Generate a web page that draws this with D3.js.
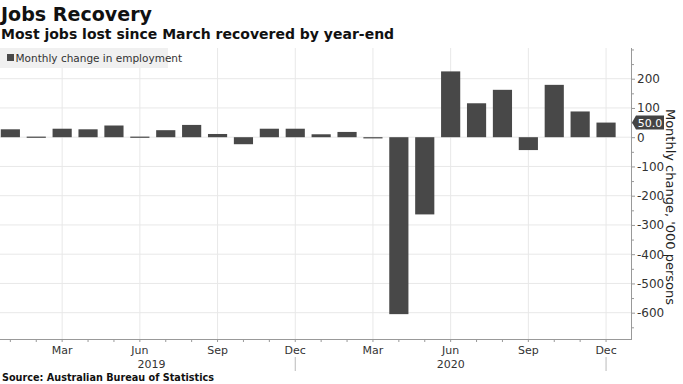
<!DOCTYPE html>
<html>
<head>
<meta charset="utf-8">
<script src="https://cdn.jsdelivr.net/npm/d3@7"></script>
<style>
  body { margin: 0; background: #fff; }
  text { font-family: "DejaVu Sans", sans-serif; }
</style>
</head>
<body>
<div id="chart"></div>
<script>
// data
var months = ["2019-01","2019-02","2019-03","2019-04","2019-05","2019-06",
              "2019-07","2019-08","2019-09","2019-10","2019-11","2019-12",
              "2020-01","2020-02","2020-03","2020-04","2020-05","2020-06",
              "2020-07","2020-08","2020-09","2020-10","2020-11","2020-12"];
var values = [27, 2, 29, 27, 40, 2, 24, 42, 11, -24, 29, 29,
              10, 18, -4, -605, -264, 225, 116, 162, -44, 179, 88, 50];
var monthLabels = {"03": "Mar", "06": "Jun", "09": "Sep", "12": "Dec"};
var years = ["2019", "2020"];
var yTicks = [200, 100, 0, -100, -200, -300, -400, -500, -600];
var lastLabel = "50.0";

var width = 683, height = 384;
var plotTop = 48, plotBottom = 339, plotRight = 631;
var barColor = "#484848";

var svg = d3.select("#chart").append("svg")
  .attr("width", width)
  .attr("height", height);

var x = d3.scaleBand()
  .domain(months)
  .range([-2.6, 619])
  .paddingInner(0.26)
  .paddingOuter(0.13);
var step = x.step();
var cx = m => x(m) + x.bandwidth() / 2;

var y = d3.scaleLinear()
  .domain([-690, 305])
  .range([plotBottom, plotTop]);

/* grid */
var grid = svg.append("g");
grid.selectAll(".hgrid")
  .data(yTicks).enter()
  .append("line")
  .attr("x1", 0).attr("x2", plotRight)
  .attr("y1", d => y(d)).attr("y2", d => y(d))
  .attr("stroke", "#e8e8e8");
grid.selectAll(".vgrid")
  .data(months.filter(m => monthLabels[m.slice(5)])).enter()
  .append("line")
  .attr("x1", d => cx(d)).attr("x2", d => cx(d))
  .attr("y1", plotTop).attr("y2", plotBottom)
  .attr("stroke", "#e8e8e8");

/* title */
svg.append("text")
  .attr("x", 1).attr("y", 21)
  .attr("font-size", 19).attr("font-weight", "bold")
  .attr("textLength", 151).attr("lengthAdjust", "spacingAndGlyphs")
  .attr("fill", "#111")
  .text("Jobs Recovery");
svg.append("text")
  .attr("x", 1).attr("y", 39)
  .attr("font-size", 14).attr("font-weight", "bold")
  .attr("fill", "#111")
  .text("Most jobs lost since March recovered by year-end");

/* legend */
svg.append("rect")
  .attr("x", 0).attr("y", 48).attr("width", 168).attr("height", 20)
  .attr("fill", "#f0f0f0");
svg.append("rect")
  .attr("x", 7).attr("y", 54).attr("width", 7).attr("height", 7)
  .attr("fill", barColor);
svg.append("text")
  .attr("x", 15.5).attr("y", 62)
  .attr("font-size", 10.5).attr("fill", "#333")
  .attr("font-family", "DejaVu Sans Condensed")
  .text("Monthly change in employment");

/* bars */
svg.append("g").selectAll("rect")
  .data(months).enter()
  .append("rect")
  .attr("x", d => x(d))
  .attr("width", x.bandwidth())
  .attr("y", (d, i) => y(Math.max(0, values[i])))
  .attr("height", (d, i) => Math.max(1.2, Math.abs(y(values[i]) - y(0))))
  .attr("fill", barColor);

/* x axis */
var xAxis = svg.append("g");
xAxis.append("line")
  .attr("x1", 0).attr("x2", plotRight)
  .attr("y1", plotBottom + 0.5).attr("y2", plotBottom + 0.5)
  .attr("stroke", "#999");
xAxis.selectAll(".tick")
  .data(months).enter()
  .append("line")
  .attr("x1", d => cx(d)).attr("x2", d => cx(d))
  .attr("y1", plotBottom).attr("y2", plotBottom + 3)
  .attr("stroke", "#999");
xAxis.selectAll(".lbl")
  .data(months.filter(m => monthLabels[m.slice(5)])).enter()
  .append("text")
  .attr("x", d => cx(d)).attr("y", 354)
  .attr("text-anchor", "middle")
  .attr("font-size", 11).attr("fill", "#333")
  .attr("font-family", "DejaVu Sans Condensed")
  .text(d => monthLabels[d.slice(5)]);
xAxis.selectAll(".year")
  .data(years).enter()
  .append("text")
  .attr("x", (d, i) => cx(d + "-06") + (i == 0 ? step * 0.45 : 0))
  .attr("y", 368)
  .attr("text-anchor", "middle")
  .attr("font-size", 11).attr("fill", "#333")
  .attr("font-family", "DejaVu Sans Condensed")
  .text(d => d);
xAxis.selectAll(".sep")
  .data(years).enter()
  .append("line")
  .attr("x1", d => cx(d + "-12")).attr("x2", d => cx(d + "-12"))
  .attr("y1", 357).attr("y2", 371)
  .attr("stroke", "#bbb");

/* right y axis */
var yAxis = d3.axisRight(y)
  .tickValues(d3.range(-650, 301, 50))
  .tickSize(4)
  .tickFormat(d => yTicks.indexOf(d) >= 0 ? d : "");
var ya = svg.append("g")
  .attr("transform", `translate(${plotRight}, 0)`)
  .call(yAxis);
ya.select(".domain").attr("stroke", "#999").attr("d", `M0.5,${plotTop}V${plotBottom + 1}`);
ya.selectAll(".tick line").attr("stroke", "#999")
  .attr("x2", d => yTicks.indexOf(d) >= 0 ? 4 : 3);
ya.selectAll(".tick text")
  .attr("x", 6)
  .attr("font-size", 12).attr("fill", "#333")
  .attr("font-family", "DejaVu Sans Condensed");

svg.append("text")
  .attr("transform", "translate(666, 207) rotate(90)")
  .attr("text-anchor", "middle")
  .attr("font-size", 13).attr("fill", "#222")
  .text("Monthly change, '000 persons");

/* last value tag */
var ly = y(values[values.length - 1]);
svg.append("path")
  .attr("d", `M${plotRight + 1},${ly} L${plotRight + 5},${ly - 7} H${plotRight + 33} V${ly + 7} H${plotRight + 5} Z`)
  .attr("fill", "#444");
svg.append("text")
  .attr("x", plotRight + 19).attr("y", ly + 4)
  .attr("text-anchor", "middle")
  .attr("font-size", 11).attr("fill", "#fff")
  .attr("font-family", "DejaVu Sans Condensed")
  .text(lastLabel);

/* source */
svg.append("text")
  .attr("x", 2).attr("y", 381)
  .attr("font-size", 10.5).attr("font-weight", "bold")
  .attr("textLength", 212).attr("lengthAdjust", "spacingAndGlyphs")
  .attr("fill", "#111")
  .text("Source: Australian Bureau of Statistics");
</script>
</body>
</html>
